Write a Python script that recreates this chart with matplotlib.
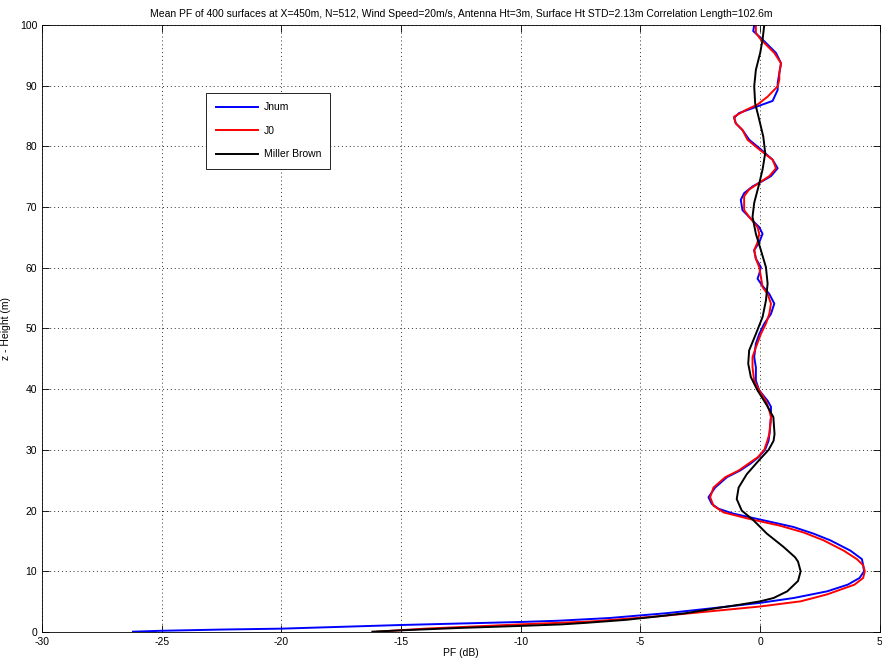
import matplotlib.pyplot as plt
import numpy as np

plt.rcParams['font.family'] = ['Liberation Sans', 'DejaVu Sans']
plt.rcParams['axes.unicode_minus'] = False

# mean propagation factor profiles, height (m) vs PF (dB)
jnum_z = [0.05, 0.2, 0.4, 0.55, 0.85, 1.15, 1.4, 1.65, 1.85, 2.3, 3.1, 4.0, 4.8, 5.6, 6.7,
          7.8, 8.9, 10, 11.0, 12.0, 13.4, 15.1, 16.2, 17.3, 18.4, 19.5, 20.3, 21.1, 22.2,
          23.8, 25.5, 26.6, 27.7, 28.8, 30, 31.5, 33, 35.4, 37.1, 38.1, 39.8, 41.4, 43.6,
          45.3, 47.5, 49.1, 50.8, 52.4, 54.1, 55.7, 57, 58.2, 59, 60.1, 61.5, 62.9, 64.2,
          65.6, 66.7, 67.8, 69.5, 71.2, 72.3, 73.4, 74.3, 75.1, 76.4, 77.8, 79.5, 81.1,
          82.7, 83.8, 84.7, 85.5, 86.3, 87.5, 89.3, 90.4, 92.1, 93.7, 95.4, 96.5, 97.6,
          99, 100]
jnum_pf = [-26.2, -25, -22.5, -20, -17.5, -15, -12.5, -10, -8.45, -6.3, -3.9, -1.8, 0, 1.4, 2.8,
           3.66, 4.15, 4.34, 4.3, 4.25, 3.77, 2.93, 2.23, 1.39, 0.14, -1.12, -1.74, -2.02, -2.16,
           -1.88, -1.39, -0.84, -0.42, -0.07, 0.2, 0.35, 0.4, 0.45, 0.45, 0.31, -0.04, -0.18, -0.18,
           -0.25, -0.18, -0.04, 0.17, 0.45, 0.59, 0.38, 0.1, -0.11, -0.04, 0.03, -0.18, -0.25, -0.04,
           0.1, -0.04, -0.32, -0.74, -0.81, -0.67, -0.32, 0.1, 0.45, 0.73, 0.52, 0.03, -0.46,
           -0.74, -1.02, -1.09, -0.88, -0.32, 0.52, 0.73, 0.73, 0.8, 0.87, 0.66, 0.38, 0.1,
           -0.29, -0.25]

j0_z = [0.05, 0.3, 0.55, 0.9, 1.26, 1.5, 1.75, 2.2, 2.6, 3.4, 4.2, 5.05, 6.2, 7.8, 8.9, 10,
        11, 12.0, 13.4, 15.1, 16.4, 17.5, 18.6, 19.7, 20.8, 22.2, 23.8, 25.5, 26.6, 28.8,
        30, 31.5, 32.6, 35.4, 36.5, 38.1, 39.8, 41.4, 43.6, 45.3, 46.9, 49.1, 50.8, 52.4,
        54.1, 55.7, 56.8, 58.5, 60.1, 61.5, 62.9, 64.2, 65.6, 66.7, 68.4, 69.5, 71.0, 71.8,
        72.9, 74, 75.1, 76.4, 77.8, 79.5, 81.1, 82.7, 83.8, 84.9, 86, 86.9, 88.2, 89.9, 91,
        92.1, 93.7, 95.4, 96.5, 97.6, 98.7, 100]
j0_pf = [-16.0, -15, -14, -12, -10, -8.45, -7.0, -5.5, -4.2, -2.1, 0, 1.69, 2.8, 3.94, 4.3, 4.37,
         4.3, 4.04, 3.49, 2.65, 1.81, 0.84, -0.42, -1.53, -1.95, -2.09, -1.95, -1.46, -0.9, -0.1,
         0.17, 0.3, 0.38, 0.45, 0.38, 0.24, -0.04, -0.25, -0.32, -0.32, -0.18, 0.03, 0.24, 0.38,
         0.45, 0.31, 0.1, 0.03, -0.04, -0.18, -0.25, -0.11, -0.04, -0.11, -0.46, -0.67, -0.67, -0.67,
         -0.46, -0.04, 0.38, 0.66, 0.52, -0.04, -0.53, -0.74, -1.02, -1.09, -0.6, -0.11, 0.31, 0.73, 0.8,
         0.8, 0.87, 0.59, 0.31, 0.03, -0.18, -0.18]

mb_z = [0.05, 0.27, 0.66, 1.0, 1.25, 1.5, 2.0, 2.6, 3.1, 4.0, 4.5, 5.05, 5.6, 6.7, 8.4, 10,
        11.6, 12.3, 14, 16.2, 18.4, 20, 21.9, 23.8, 26, 28.2, 30, 31.5, 32.6, 35.4, 37.6,
        39.8, 42.0, 44.2, 46.4, 49.1, 51.9, 54.6, 57.4, 60.1, 62.9, 65.6, 68.4, 70.7, 73.4,
        76.2, 78.9, 81.6, 84.4, 87.1, 89.9, 92.6, 95.4, 97.6, 100]
mb_pf = [-16.2, -15, -12.6, -10, -8.3, -7.3, -5.6, -4.2, -3.1, -1.7, -0.85, 0, 0.56, 1.13, 1.58, 1.69,
         1.58, 1.46, 0.98, 0.28, -0.28, -0.77, -0.98, -0.9, -0.56, -0.07, 0.35, 0.56, 0.6, 0.55, 0.24,
         -0.11, -0.39, -0.5, -0.46, -0.18, 0.1, 0.24, 0.31, 0.24, 0.03, -0.18, -0.32, -0.25, -0.07,
         0.1, 0.21, 0.13, -0.04, -0.21, -0.25, -0.18, 0.0, 0.1, 0.17]

fig = plt.figure(figsize=(8.82, 6.67), dpi=100)
ax = fig.add_axes([0.0476, 0.0525, 0.95, 0.91])

ax.plot(jnum_pf, jnum_z, color='blue', linewidth=1.4, label='Jnum')
ax.plot(j0_pf, j0_z, color='red', linewidth=1.4, label='J0')
ax.plot(mb_pf, mb_z, color='black', linewidth=1.4, label='Miller Brown')

ax.set_xlim(-30, 5)
ax.set_ylim(0, 100)
ax.set_xticks(np.arange(-30, 6, 5))
ax.set_yticks(np.arange(0, 101, 10))
ax.grid(True, color='#333333', linestyle=(0, (1, 3)), linewidth=0.7)
ax.tick_params(direction='in', top=True, right=True, length=5, width=0.6, labelsize=7.5)
for s in ax.spines.values():
    s.set_linewidth(0.6)

ax.set_xlabel('PF (dB)', fontsize=7.5, labelpad=1)
ax.set_ylabel('z - Height (m)', fontsize=7.5, labelpad=6)
ax.set_title('Mean PF of 400 surfaces at X=450m, N=512, Wind Speed=20m/s, Antenna Ht=3m, '
             'Surface Ht STD=2.13m Correlation Length=102.6m', fontsize=7.5, pad=6)

leg = ax.legend(loc='upper left', bbox_to_anchor=(0.196, 0.888), fontsize=7.5,
                fancybox=False, edgecolor='black', framealpha=1, handlelength=4.1,
                handletextpad=0.5, labelspacing=1.3, borderpad=0.9, borderaxespad=0)
leg.get_frame().set_linewidth(0.6)

fig.savefig('out.png', dpi=100)
